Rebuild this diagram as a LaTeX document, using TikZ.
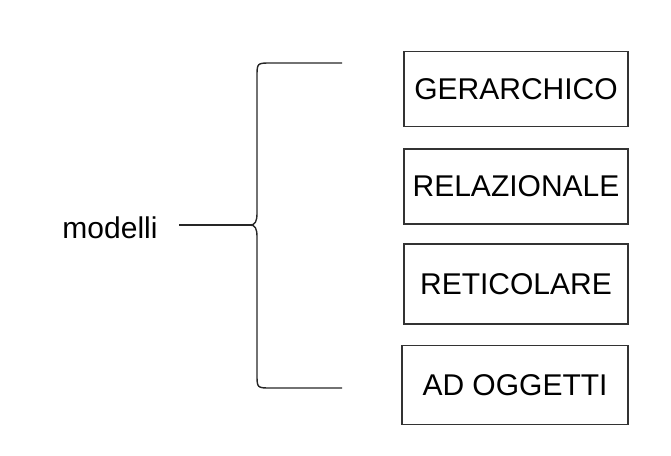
\documentclass[tikz,border=0pt]{standalone}
\usepackage{fontspec}
\setmainfont{Liberation Sans}
\definecolor{cbox}{RGB}{51,51,51}
\tikzset{modsec/.style={x=1pt,y=-1pt,font=\fontsize{30}{35}\selectfont},
  modbox/.style={draw=cbox,line width=1.4pt,minimum width=224pt,inner sep=0pt},
  brace/.style={line width=1.4pt,black!85}}

\begin{document}
\begin{tikzpicture}[modsec]
    \useasboundingbox (0,0) rectangle (671,455);
    \node[modbox,minimum height=75pt] (gerarchico)  at (516,89)   {GERARCHICO};
    \node[modbox,minimum height=75pt] (relazionale) at (516,186.5) {RELAZIONALE};
    \node[modbox,minimum height=80pt] (reticolare)  at (516,284)  {RETICOLARE};
    \node[modbox,minimum height=79pt,minimum width=226pt] (oggetti) at (515,385) {AD OGGETTI};
    \node (modelli) at (110,228) {modelli};
    \coordinate (lead) at (179,225);
    \coordinate (top) at (342,63);
    \coordinate (tip) at (250,225);
    \coordinate (bot) at (342,388);
    \draw[brace] (lead) -- (tip);
    % curly brace
    \draw[brace] (top) -- (271,63) .. controls (257,63) .. (257,77) -- (257,213)
        .. controls (257,222) and (255,225) .. (tip)
        .. controls (255,225) and (257,228) .. (257,237) -- (257,374)
        .. controls (257,388) .. (271,388) -- (bot);
\end{tikzpicture}
\end{document}
